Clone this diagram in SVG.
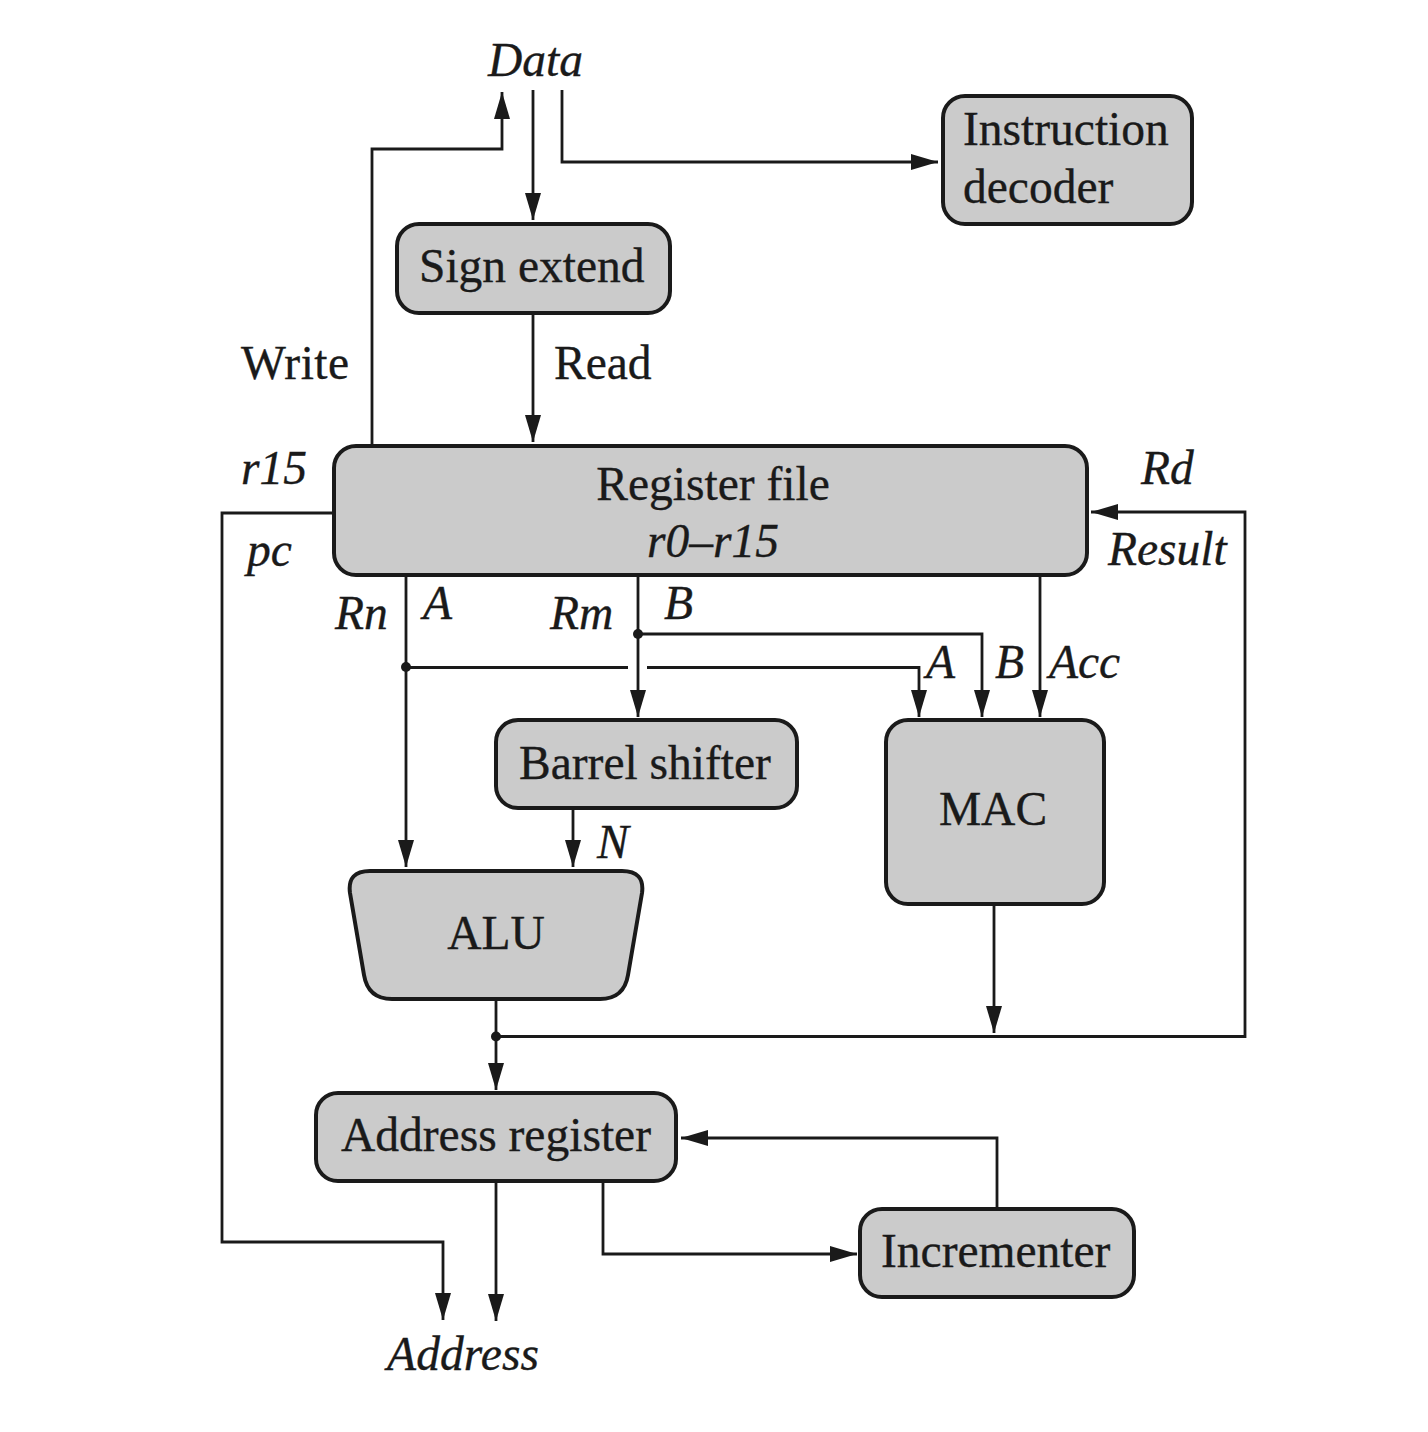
<svg xmlns="http://www.w3.org/2000/svg" width="1428" height="1432" viewBox="0 0 1428 1432">
<defs><marker id="a" viewBox="0 0 27 16" refX="27" refY="8" markerWidth="27" markerHeight="16" markerUnits="userSpaceOnUse" orient="auto"><path d="M0 0L27 8L0 16Z" fill="#1a1a1a"/></marker></defs>
<style>
.n{fill:#cbcbcb;stroke:#1a1a1a;stroke-width:4}
.c{fill:none;stroke:#1a1a1a;stroke-width:2.8}
.m{marker-end:url(#a)}
text{font-family:"Liberation Serif",serif;font-size:47.5px;fill:#1a1a1a;stroke:#1a1a1a;stroke-width:.35}
.i{font-style:italic}
.d{fill:#1a1a1a;stroke:none}
</style>
<rect width="1428" height="1432" fill="#fff"/>
<g id="connectors">
<path class="c m" d="M372 446V149H502V92"/>
<path class="c m" d="M533 90V220"/>
<path class="c m" d="M562 90V162H938"/>
<path class="c m" d="M533 313V442"/>
<path class="c m" d="M333 513H222V1242H443V1320"/>
<path class="c m" d="M406 575V867"/>
<path class="c m" d="M638 575V717"/>
<path class="c m" d="M638 634H982V717"/>
<path class="c" d="M406 667.5H628"/>
<path class="c m" d="M647 667.5H919V717"/>
<path class="c m" d="M1040 575V717"/>
<path class="c m" d="M573 808V867"/>
<path class="c m" d="M994 904V1033"/>
<path class="c m" d="M496 999V1090"/>
<path class="c m" d="M496 1036.5H1245V512H1091"/>
<path class="c m" d="M997 1208V1138H681"/>
<path class="c m" d="M496 1181V1321"/>
<path class="c m" d="M603 1181V1254H857"/>
<circle class="d" cx="406" cy="667" r="5"/>
<circle class="d" cx="638" cy="634" r="5"/>
<circle class="d" cx="496" cy="1036.5" r="5"/>
</g>
<g id="data"><text class="i" x="488" y="76">Data</text></g>
<g id="instruction-decoder"><rect class="n" x="943" y="96" width="249" height="128" rx="22"/><text x="963" y="145">Instruction</text><text x="963" y="203">decoder</text></g>
<g id="sign-extend"><rect class="n" x="397" y="224" width="273" height="89" rx="22"/><text x="419" y="282">Sign extend</text></g>
<g id="labels-upper"><text x="241" y="379" textLength="108">Write</text><text x="554" y="379">Read</text><text class="i" x="241" y="484">r15</text><text class="i" x="247" y="566">pc</text><text class="i" x="1141" y="484">Rd</text><text class="i" x="1108" y="565">Result</text></g>
<g id="register-file"><rect class="n" x="334" y="446" width="753" height="129" rx="22"/><text x="713" y="500" text-anchor="middle">Register file</text><text class="i" x="713" y="557" text-anchor="middle">r0–r15</text></g>
<g id="labels-mid"><text class="i" x="335" y="629">Rn</text><text class="i" x="423" y="619">A</text><text class="i" x="550" y="629">Rm</text><text class="i" x="664" y="619">B</text><text class="i" x="926" y="678">A</text><text class="i" x="995" y="678">B</text><text class="i" x="1049" y="678">Acc</text><text class="i" x="597" y="858">N</text></g>
<g id="barrel-shifter"><rect class="n" x="496" y="720" width="301" height="88" rx="22"/><text x="519" y="779">Barrel shifter</text></g>
<g id="mac"><rect class="n" x="886" y="720" width="218" height="184" rx="22"/><text x="993" y="825" text-anchor="middle">MAC</text></g>
<g id="alu"><path class="n" d="M370 871H622Q645 871 642 893L628 975Q624 999 600 999H392Q368 999 364 975L350 893Q347 871 370 871Z"/><text x="496" y="949" text-anchor="middle">ALU</text></g>
<g id="address-register"><rect class="n" x="316" y="1093" width="360" height="88" rx="22"/><text x="341" y="1151">Address register</text></g>
<g id="incrementer"><rect class="n" x="860" y="1209" width="274" height="88" rx="22"/><text x="881" y="1267">Incrementer</text></g>
<g id="address"><text class="i" x="387" y="1370" textLength="152">Address</text></g>
</svg>
